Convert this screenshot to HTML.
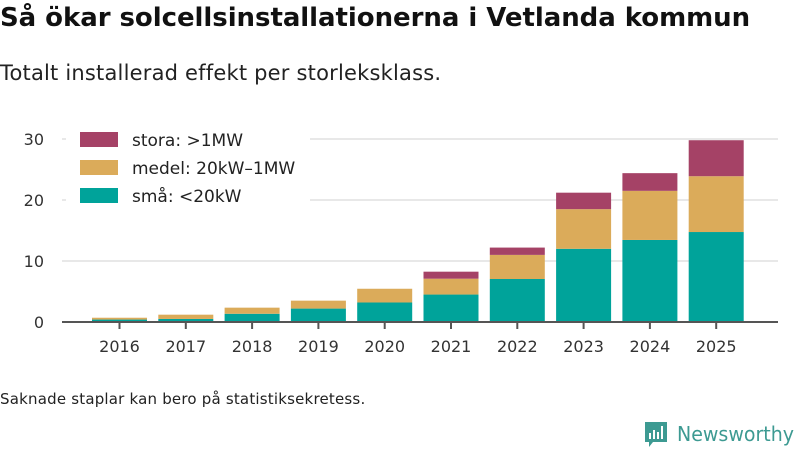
<!DOCTYPE html>
<html><head><meta charset="utf-8"><style>
body{margin:0;width:800px;height:450px;background:#fff;font-family:"Liberation Sans","DejaVu Sans",sans-serif;overflow:hidden;position:relative}
h1{position:absolute;left:0;top:3px;margin:0;font-size:26px;font-weight:bold;color:#111;font-family:"DejaVu Sans",sans-serif;letter-spacing:-0.05px;white-space:nowrap}
.sub{position:absolute;left:0;top:61px;font-size:21px;color:#222;font-family:"DejaVu Sans",sans-serif;letter-spacing:0.2px}
.note{position:absolute;left:0;top:390px;font-size:15px;color:#222;font-family:"DejaVu Sans",sans-serif;letter-spacing:0.2px}
svg{position:absolute;left:0;top:0}
</style></head><body>
<h1>Så ökar solcellsinstallationerna i Vetlanda kommun</h1>
<div class="sub">Totalt installerad effekt per storleksklass.</div>
<div class="note">Saknade staplar kan bero på statistiksekretess.</div>
<svg id="chart" width="800" height="450"></svg>
<script>
const years=["2016","2017","2018","2019","2020","2021","2022","2023","2024","2025"];
const sma=[0.4,0.5,1.35,2.2,3.2,4.5,7.05,12.0,13.45,14.75];
const medel=[0.3,0.7,1.0,1.3,2.25,2.6,3.95,6.5,8.05,9.15];
const stora=[0,0,0,0,0,1.15,1.2,2.7,2.9,5.9];
const yTicks=[0,10,20,30];
const NS="http://www.w3.org/2000/svg";
const svg=document.getElementById('chart');
const y=v=>322-v*6.1;
const x=i=>119.5+66.3*i;
const bw=55;
function el(t,a,p){const e=document.createElementNS(NS,t);for(const k in a)e.setAttribute(k,a[k]);(p||svg).appendChild(e);return e;}
yTicks.forEach(t=>{
  if(t>0){const g=el('line',{x1:62,x2:778,y1:y(t),y2:y(t),stroke:'#e0e0e0','stroke-width':1.5});
  
  }
  const tx=el('text',{x:44,y:y(t)+6,'text-anchor':'end','font-size':16,fill:'#333','font-family':'DejaVu Sans, sans-serif'});
  tx.textContent=t;
  
  
});
const series=[[sma,'#00a39a','sma'],[medel,'#dbab5a','medel'],[stora,'#a54266','stora']];
years.forEach((yr,i)=>{
  let base=0;
  series.forEach(([arr,col,nm])=>{
    const v=arr[i];
    if(v>0){const r=el('rect',{x:x(i)-bw/2,y:y(base+v),width:bw,height:v*6.1,fill:col});
    
    }
    base+=v;
  });
  el('line',{x1:x(i),x2:x(i),y1:322,y2:329,stroke:'#555','stroke-width':2});
  const t=el('text',{x:x(i),y:352,'text-anchor':'middle','font-size':16,fill:'#333','font-family':'DejaVu Sans, sans-serif'});
  t.textContent=yr;
  
  
});
const ax=el('line',{x1:62,x2:778,y1:322,y2:322,stroke:'#555','stroke-width':2});


const lg=el('g',{});


el('rect',{x:66,y:124,width:244,height:86,fill:'#fff'},lg);
[['stora: >1MW','#a54266'],['medel: 20kW–1MW','#dbab5a'],['små: <20kW','#00a39a']].forEach(([l,c],k)=>{
  const yy=132+k*28;
  el('rect',{x:80,y:yy,width:38,height:15,fill:c},lg);
  const t=el('text',{x:132,y:yy+14,'font-size':17,fill:'#222','font-family':'DejaVu Sans, sans-serif'},lg);
  t.textContent=l;
  
  
});
const lo=el('g',{});


el('path',{d:'M645 422h22v20h-14l-4 5v-5h-4z',fill:'#3d9a92'},lo);
el('rect',{x:649,y:433,width:2,height:6,fill:'#fff'},lo);
el('rect',{x:653,y:430,width:2,height:9,fill:'#fff'},lo);
el('rect',{x:657,y:432,width:2,height:7,fill:'#fff'},lo);
el('rect',{x:661,y:426,width:2,height:13,fill:'#fff'},lo);
const lt=el('text',{x:677,y:441,'font-size':20,fill:'#3d9a92','font-family':'DejaVu Sans, sans-serif',textLength:117,lengthAdjust:'spacingAndGlyphs'},lo);
lt.textContent='Newsworthy';
</script>
</body></html>
